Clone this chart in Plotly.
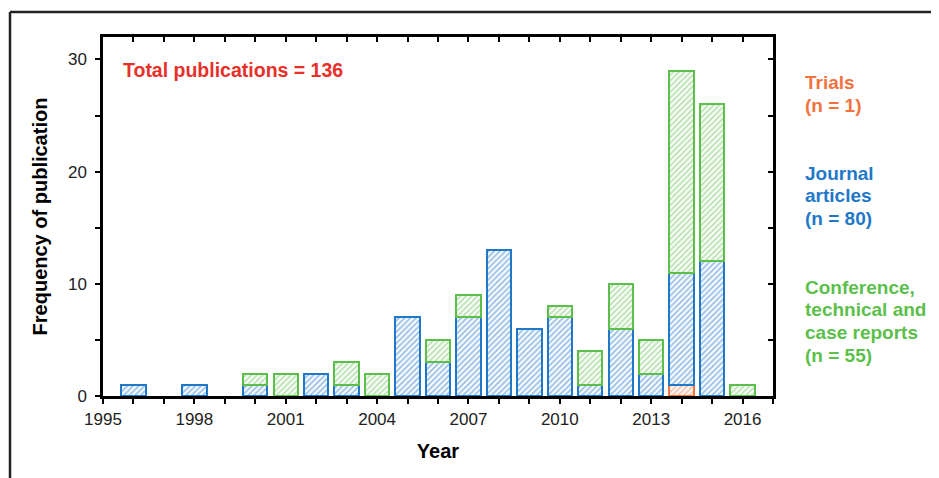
import plotly.graph_objects as go

years = list(range(1996, 2017))
trials = [None, None, None, None, None, None, None, None, None, None, None, None, None, None, None, None, None, None, 1, None, None]
journal = [1, None, 1, None, 1, None, 2, 1, None, 7, 3, 7, 13, 6, 7, 1, 6, 2, 10, 12, None]
conference = [None, None, None, None, 1, 2, None, 2, 2, None, 2, 2, None, None, 1, 3, 4, 3, 18, 14, 1]

x_tick_vals = [1995, 1998, 2001, 2004, 2007, 2010, 2013, 2016]
y_tick_vals = [0, 10, 20, 30]

FONT = "Liberation Sans, Arial, sans-serif"
ORANGE = "#f2733f"
BLUE = "#1f78c8"
GREEN = "#5cbf4b"

# page has an 8px body margin: figure is drawn from (8, 8)
OFF = 8
W, H = 939 - OFF, 478 - OFF
PL, PT, PR, PB = 103, 37, 773, 396  # plot area in page pixels


def bar(name, vals, line_col, hatch_col):
    return go.Bar(
        x=years, y=vals, name=name, width=0.8,
        marker=dict(
            color="white",
            line=dict(color=line_col, width=2),
            pattern=dict(shape="/", fgcolor=hatch_col, bgcolor="white",
                         size=4, solidity=0.5, fillmode="overlay"),
        ),
        showlegend=False, hoverinfo="x+y+name",
    )


fig = go.Figure()
fig.add_trace(bar("Trials", trials, ORANGE, "#f48a5e"))
fig.add_trace(bar("Journal articles", journal, BLUE, "#3f88d2"))
fig.add_trace(bar("Conference, technical and case reports", conference, GREEN, "#7cc86c"))
# helper trace for the top / right axes
fig.add_trace(go.Scatter(x=[1995], y=[0], xaxis="x2", yaxis="y2", mode="markers",
                         marker=dict(opacity=0), showlegend=False, hoverinfo="skip"))

common_axis = dict(showline=True, linecolor="black", linewidth=2.5, showgrid=False,
                   zeroline=False, tickcolor="black", tickwidth=2, ticklen=5)

fig.update_layout(
    width=W, height=H,
    margin=dict(l=PL - OFF, r=W - (PR - OFF), t=PT - OFF, b=H - (PB - OFF)),
    paper_bgcolor="white", plot_bgcolor="white",
    barmode="stack",
    font=dict(family=FONT, color="black"),
    xaxis=dict(range=[1995, 2017], tickvals=x_tick_vals, ticks="outside",
               minor=dict(dtick=1, tick0=1995, ticks="outside", ticklen=5, tickwidth=2, tickcolor="black"),
               tickfont=dict(size=17, family=FONT, color="#222222"), ticklabelstandoff=1,
               title=dict(text="<b>Year</b>", font=dict(size=20, family=FONT), standoff=16),
               **common_axis),
    yaxis=dict(range=[0, 32], tickvals=y_tick_vals, ticks="outside",
               minor=dict(dtick=5, tick0=0, ticks="outside", ticklen=5, tickwidth=2, tickcolor="black"),
               tickfont=dict(size=17, family=FONT, color="#222222"), ticklabelstandoff=5,
               title=dict(text="<b>Frequency of publication</b>", font=dict(size=20, family=FONT), standoff=15),
               **common_axis),
    xaxis2=dict(range=[1995, 2017], overlaying="x", side="top", anchor="y2",
                tickvals=x_tick_vals, ticks="inside", showticklabels=False,
                minor=dict(dtick=1, tick0=1995, ticks="inside", ticklen=5, tickwidth=2, tickcolor="black"),
                **common_axis),
    yaxis2=dict(range=[0, 32], overlaying="y", side="right", anchor="x2",
                tickvals=y_tick_vals, ticks="inside", showticklabels=False,
                minor=dict(dtick=5, tick0=0, ticks="inside", ticklen=5, tickwidth=2, tickcolor="black"),
                **common_axis),
)


def px(xp, yp):
    return (xp - PL) / (PR - PL), (PB - yp) / (PB - PT)


shapes = []
x0, y0 = px(10, 12)
x1, _ = px(939, 12)
_, yb = px(10, 478)
shapes.append(dict(type="line", xref="paper", yref="paper", x0=x0, y0=y0, x1=x1, y1=y0,
                   line=dict(color="#222222", width=2.5)))
shapes.append(dict(type="line", xref="paper", yref="paper", x0=x0, y0=y0, x1=x0, y1=yb,
                   line=dict(color="#222222", width=2.5)))
fig.update_layout(shapes=shapes)

annotations = []
tx, ty = px(121, 70)
annotations.append(dict(text="<b>Total publications = 136</b>", xref="paper", yref="paper",
                        x=tx, y=ty, xanchor="left", yanchor="middle", showarrow=False,
                        font=dict(size=19.5, color="#e8302a", family=FONT)))

blocks = [
    (["Trials", "(n = 1)"], 83, ORANGE),
    (["Journal", "articles", "(n = 80)"], 173, BLUE),
    (["Conference,", "technical and", "case reports", "(n = 55)"], 287, GREEN),
]
for lines, ystart, col in blocks:
    for i, t in enumerate(lines):
        ax, ay = px(803, ystart + i * 22.7)
        annotations.append(dict(text="<b>" + t + "</b>", xref="paper", yref="paper",
                                x=ax, y=ay, xanchor="left", yanchor="middle", showarrow=False,
                                font=dict(size=19, color=col, family=FONT)))
fig.update_layout(annotations=annotations)

fig.write_html("out.html")
